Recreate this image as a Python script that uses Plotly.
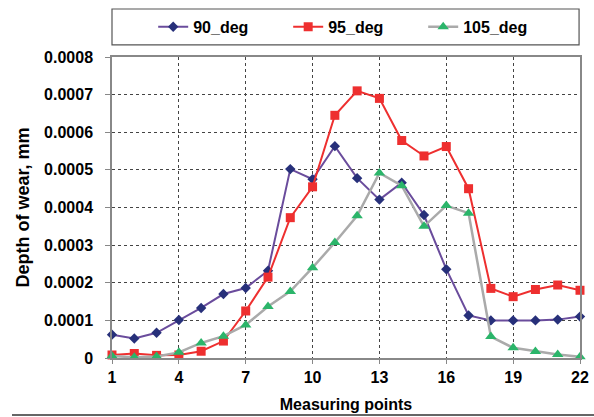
import plotly.graph_objects as go

points = list(range(1, 23))
deg90 = [0.000062, 0.000052, 0.000067, 0.000101, 0.000133, 0.000170, 0.000186, 0.000232,
         0.000502, 0.000475, 0.000563, 0.000478, 0.000421, 0.000466, 0.000380, 0.000236,
         0.000113, 0.000100, 0.000100, 0.000100, 0.000102, 0.000110]
deg95 = [0.000008, 0.000012, 0.000007, 0.000008, 0.000018, 0.000045, 0.000125, 0.000215,
         0.000373, 0.000455, 0.000645, 0.000710, 0.000690, 0.000578, 0.000537, 0.000562,
         0.000450, 0.000185, 0.000163, 0.000182, 0.000194, 0.000180]
deg105 = [0.000005, 0.000002, 0.000004, 0.000015, 0.000040, 0.000058, 0.000088, 0.000137,
          0.000177, 0.000240, 0.000307, 0.000378, 0.000492, 0.000458, 0.000350, 0.000405,
          0.000385, 0.000057, 0.000027, 0.000017, 0.000009, 0.000003]

x_ticks = [1, 4, 7, 10, 13, 16, 19, 22]
y_ticks = [0, 0.0001, 0.0002, 0.0003, 0.0004, 0.0005, 0.0006, 0.0007, 0.0008]
y_labels = ["0", "0.0001", "0.0002", "0.0003", "0.0004", "0.0005", "0.0006", "0.0007", "0.0008"]

FONT = "Liberation Sans, Arial, sans-serif"

fig = go.Figure()
fig.add_trace(go.Scatter(x=points, y=deg90, name="90_deg", mode="lines+markers",
                         line=dict(color="#6a4c9c", width=2),
                         marker=dict(symbol="diamond", size=8, color="#27307a")))
fig.add_trace(go.Scatter(x=points, y=deg95, name="95_deg", mode="lines+markers",
                         line=dict(color="#ee2f2f", width=2),
                         marker=dict(symbol="square", size=9, color="#ee2f2f")))
fig.add_trace(go.Scatter(x=points, y=deg105, name="105_deg", mode="lines+markers",
                         line=dict(color="#aaaaaa", width=2.5),
                         marker=dict(symbol="triangle-up", size=10, color="#2bb56a")))
fig.update_traces(cliponaxis=False)

fig.update_layout(
    width=594, height=417,
    margin=dict(l=112, r=14, t=57, b=59, autoexpand=False),
    paper_bgcolor="white", plot_bgcolor="white",
    font=dict(family=FONT, color="black"),
    showlegend=True,
    legend=dict(orientation="h", x=0.088, xanchor="left", y=1.1, yanchor="middle",
                entrywidth=90, font=dict(size=16, family=FONT, weight="bold"),
                bgcolor="rgba(0,0,0,0)", borderwidth=0),
    xaxis=dict(range=[1, 22], tickvals=x_ticks, showgrid=True, gridcolor="#444444",
               griddash="dot", gridwidth=1, showline=True, linecolor="#888888",
               linewidth=1.5, mirror=True, zeroline=False,
               ticks="outside", ticklen=4, tickcolor="#888888",
               ticklabelstandoff=0, automargin=False,
               tickfont=dict(size=16, family=FONT, weight="bold"),
               title=dict(text="Measuring points", standoff=14,
                          font=dict(size=16, family=FONT, weight="bold"))),
    yaxis=dict(range=[0, 0.0008], tickvals=y_ticks, ticktext=y_labels, showgrid=True,
               gridcolor="#444444", griddash="dot", gridwidth=1, showline=True,
               linecolor="#888888", linewidth=1.5, mirror=True, zeroline=False,
               ticks="outside", ticklen=5, tickcolor="#888888",
               ticklabelstandoff=9, automargin=False,
               tickfont=dict(size=16, family=FONT, weight="bold"),
               title=dict(text="Depth of wear, mm", standoff=10,
                          font=dict(size=18, family=FONT, weight="bold"))),
    shapes=[
        dict(type="rect", xref="paper", yref="paper", x0=0, x1=0.998, y0=1.04, y1=1.1595,
             line=dict(color="#555555", width=1.2), fillcolor="rgba(0,0,0,0)"),
        dict(type="line", xref="paper", yref="paper", x0=-0.2137, x1=1.03, y0=-0.189, y1=-0.189,
             line=dict(color="#333333", width=1.5)),
    ],
)

fig.write_html("out.html", config={"displayModeBar": False},
               post_script="document.body.style.margin='0';document.body.style.overflow='hidden';")
